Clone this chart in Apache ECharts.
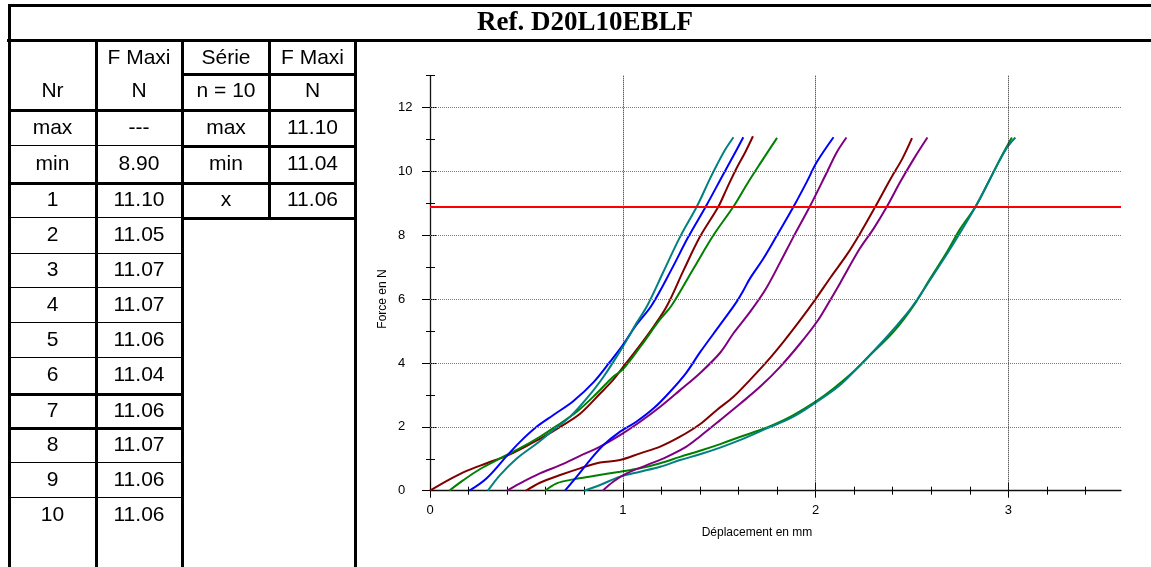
<!DOCTYPE html>
<html>
<head>
<meta charset="utf-8">
<title>Ref. D20L10EBLF</title>
<script src="https://cdn.jsdelivr.net/npm/echarts@6/dist/echarts.min.js"></script>
<style>
html, body { margin: 0; padding: 0; background: #fff; }
#chart { width: 1151px; height: 567px; }
</style>
</head>
<body>
<div id="chart"></div>
<script>
// tableau
const refTitre = 'Ref. D20L10EBLF';
const enTete = ['Nr', 'F Maxi', 'N', 'Série', 'n = 10', 'F Maxi', 'N'];
const limiteNoms = ['max', 'min'];
const limiteValeurs = ['---', '8.90'];
const echantillons = ['1', '2', '3', '4', '5', '6', '7', '8', '9', '10'];
const fMaxi = ['11.10', '11.05', '11.07', '11.07', '11.06', '11.04', '11.06', '11.07', '11.06', '11.06'];
const serieNoms = ['max', 'min', 'x'];
const serieValeurs = ['11.10', '11.04', '11.06'];

// axes
const xTicks = [0, 1, 2, 3];
const xMinorTicks = [0.2, 0.4, 0.6, 0.8, 1.2, 1.4, 1.6, 1.8, 2.2, 2.4, 2.6, 2.8, 3.2, 3.4];
const yTicks = [0, 2, 4, 6, 8, 10, 12];
const yMinorTicks = [1, 3, 5, 7, 9, 11, 13];
const xMax = 3.584;
const yMax = 13;

// courbes force / deplacement
const couleurs = ['#800000', '#008000', '#0000ff', '#008080', '#800080', '#800000', '#008000', '#0000ff', '#008080', '#800080'];
const courbe1 = [[0, 0], [0.104, 0.36], [0.19, 0.62], [0.294, 0.86], [0.40, 1.10], [0.50, 1.40], [0.59, 1.69], [0.675, 2.0], [0.78, 2.42], [0.88, 3.03], [0.95, 3.47], [1.0, 3.86], [1.07, 4.4], [1.16, 5.14], [1.23, 5.8], [1.315, 6.9], [1.40, 7.95], [1.496, 8.9], [1.54, 9.47], [1.59, 10.1], [1.635, 10.6], [1.675, 11.10]];
const courbe2 = [[0.1, 0], [0.173, 0.33], [0.26, 0.68], [0.363, 1.01], [0.467, 1.33], [0.57, 1.69], [0.657, 2.03], [0.761, 2.47], [0.865, 3.05], [0.95, 3.57], [1.0, 3.8], [1.09, 4.5], [1.19, 5.34], [1.254, 5.81], [1.367, 6.96], [1.47, 8.0], [1.574, 8.9], [1.644, 9.6], [1.713, 10.25], [1.80, 11.05]];
const courbe3 = [[0.204, 0], [0.294, 0.39], [0.40, 1.10], [0.467, 1.53], [0.553, 2.0], [0.64, 2.37], [0.744, 2.81], [0.85, 3.41], [0.934, 4.04], [1.0, 4.56], [1.07, 5.19], [1.15, 5.81], [1.25, 6.9], [1.34, 7.95], [1.435, 8.95], [1.522, 9.92], [1.573, 10.48], [1.625, 11.07]];
const courbe4 = [[0.30, 0], [0.363, 0.49], [0.45, 1.01], [0.554, 1.48], [0.64, 1.90], [0.727, 2.32], [0.813, 2.89], [0.90, 3.57], [1.0, 4.51], [1.07, 5.24], [1.128, 5.81], [1.21, 6.85], [1.297, 7.95], [1.384, 8.9], [1.453, 9.78], [1.488, 10.2], [1.53, 10.67], [1.574, 11.07]];
const courbe5 = [[0.40, 0], [0.467, 0.23], [0.57, 0.54], [0.675, 0.80], [0.778, 1.09], [0.882, 1.38], [0.986, 1.74], [1.09, 2.16], [1.194, 2.63], [1.297, 3.15], [1.40, 3.68], [1.505, 4.32], [1.574, 4.93], [1.66, 5.6], [1.74, 6.3], [1.816, 7.15], [1.885, 7.95], [1.97, 8.9], [2.06, 9.99], [2.11, 10.6], [2.16, 11.06]];
const courbe6 = [[0.498, 0], [0.57, 0.25], [0.675, 0.49], [0.778, 0.70], [0.882, 0.88], [0.986, 0.96], [1.09, 1.17], [1.194, 1.38], [1.297, 1.69], [1.40, 2.08], [1.488, 2.53], [1.574, 2.94], [1.66, 3.47], [1.747, 4.04], [1.834, 4.67], [1.92, 5.34], [2.0, 6.0], [2.08, 6.7], [2.163, 7.4], [2.23, 8.05], [2.31, 8.9], [2.39, 9.78], [2.45, 10.4], [2.50, 11.04]];
const courbe7 = [[0.597, 0], [0.657, 0.23], [0.744, 0.355], [0.848, 0.46], [0.986, 0.595], [1.09, 0.70], [1.194, 0.86], [1.297, 1.06], [1.40, 1.25], [1.505, 1.46], [1.61, 1.69], [1.713, 1.90], [1.78, 2.06], [1.885, 2.37], [2.0, 2.79], [2.093, 3.20], [2.197, 3.73], [2.30, 4.35], [2.405, 4.98], [2.51, 5.81], [2.595, 6.65], [2.682, 7.48], [2.75, 8.2], [2.83, 8.9], [2.906, 9.78], [2.958, 10.4], [3.018, 11.06]];
const courbe8 = [[0.70, 0], [0.761, 0.44], [0.83, 0.96], [0.90, 1.43], [0.986, 1.85], [1.07, 2.16], [1.16, 2.58], [1.245, 3.1], [1.33, 3.7], [1.40, 4.33], [1.505, 5.2], [1.583, 5.85], [1.626, 6.28], [1.66, 6.65], [1.73, 7.28], [1.80, 8.0], [1.886, 8.9], [1.955, 9.68], [2.007, 10.3], [2.093, 11.07]];
const courbe9 = [[0.80, 0], [0.882, 0.18], [0.986, 0.44], [1.09, 0.595], [1.194, 0.75], [1.297, 0.96], [1.40, 1.14], [1.505, 1.35], [1.61, 1.59], [1.747, 1.95], [1.885, 2.32], [2.0, 2.76], [2.127, 3.31], [2.248, 4.04], [2.37, 4.82], [2.474, 5.55], [2.517, 5.9], [2.61, 6.75], [2.70, 7.59], [2.83, 8.9], [2.924, 9.99], [2.99, 10.72], [3.036, 11.06]];
const courbe10 = [[0.896, 0], [0.95, 0.28], [1.02, 0.54], [1.124, 0.80], [1.228, 1.06], [1.33, 1.38], [1.40, 1.70], [1.505, 2.21], [1.61, 2.73], [1.713, 3.26], [1.816, 3.88], [1.92, 4.61], [2.007, 5.29], [2.06, 5.81], [2.127, 6.5], [2.23, 7.59], [2.30, 8.2], [2.37, 8.9], [2.44, 9.68], [2.51, 10.4], [2.58, 11.06]];
const courbes = [courbe1, courbe2, courbe3, courbe4, courbe5, courbe6, courbe7, courbe8, courbe9, courbe10];

const police = '"Liberation Sans", Arial, sans-serif';

// dessin du tableau (graphic)
const elements = [];
function trait(x, y, w, h) {
    elements.push({ type: 'rect', shape: { x: x, y: y, width: w, height: h }, style: { fill: '#000' }, silent: true });
}
function texte(t, x, y, taille, font) {
    elements.push({
        type: 'text', x: x, y: y, silent: true,
        style: { text: t, fill: '#000', align: 'center', verticalAlign: 'middle', font: font || (taille + 'px ' + police) }
    });
}
// cadre et colonnes
trait(8, 4, 1143, 3);
trait(7, 39, 1144, 3);
trait(8, 4, 3, 563);
trait(95, 42, 3, 525);
trait(181, 42, 3, 525);
trait(268, 42, 3, 177);
trait(354, 42, 3, 525);
// lignes
trait(181, 73, 176, 3);
trait(8, 109, 349, 3);
trait(11, 145, 170, 1);
trait(181, 145, 176, 3);
trait(8, 182, 349, 3);
trait(11, 217, 170, 1);
trait(181, 217, 176, 3);
[253, 287, 322, 357, 462, 497].forEach(y => trait(11, y, 170, 1));
trait(8, 393, 176, 3);
trait(8, 427, 176, 3);

const colX = [52.5, 139, 226, 312.5];
const rowY = [128, 164, 200, 235, 270, 305, 340, 375.5, 411, 445.5, 480, 515];
texte(refTitre, 585, 23, 27, 'bold 27px "Liberation Serif", "Times New Roman", serif');
texte(enTete[0], colX[0], 91, 21);
texte(enTete[1], colX[1], 58, 21);
texte(enTete[2], colX[1], 91, 21);
texte(enTete[3], colX[2], 58, 21);
texte(enTete[4], colX[2], 91, 21);
texte(enTete[5], colX[3], 58, 21);
texte(enTete[6], colX[3], 91, 21);
limiteNoms.forEach((n, i) => { texte(n, colX[0], rowY[i], 21); texte(limiteValeurs[i], colX[1], rowY[i], 21); });
echantillons.forEach((n, i) => { texte(n, colX[0], rowY[i + 2], 21); texte(fMaxi[i], colX[1], rowY[i + 2], 21); });
serieNoms.forEach((n, i) => { texte(n, colX[2], rowY[i], 21); texte(serieValeurs[i], colX[3], rowY[i], 21); });
// noms des axes
elements.push({ type: 'text', x: 383, y: 299, rotation: Math.PI / 2, silent: true,
    style: { text: 'Force en N', fill: '#000', align: 'center', verticalAlign: 'middle', font: '12px ' + police } });
texte('Déplacement en mm', 757, 533, 12);

function axeX(opts) {
    return Object.assign({
        type: 'value', min: 0, max: xMax, position: 'bottom',
        splitLine: { show: false }, axisLine: { show: false },
        axisLabel: { show: false }, axisTick: { show: false }
    }, opts);
}
function axeY(opts) {
    return Object.assign({
        type: 'value', min: 0, max: yMax, position: 'left',
        splitLine: { show: false }, axisLine: { show: false },
        axisLabel: { show: false }, axisTick: { show: false }
    }, opts);
}
const noir = { color: '#000', width: 1 };

const option = {
    animation: false,
    backgroundColor: '#fff',
    graphic: elements,
    grid: { left: 430, top: 75.6, right: 30, bottom: 76.3 },
    xAxis: [
        axeX({
            axisLine: { show: true, onZero: false, lineStyle: { color: '#111', width: 1.3 } },
            axisTick: { show: true, length: 7, customValues: xTicks, lineStyle: noir },
            axisLabel: { show: true, customValues: xTicks, margin: 13, fontSize: 13, color: '#000', fontFamily: police }
        }),
        axeX({ axisTick: { show: true, inside: true, length: 8, customValues: xTicks, lineStyle: noir } }),
        axeX({ axisTick: { show: true, length: 4, customValues: xMinorTicks, lineStyle: noir } }),
        axeX({ axisTick: { show: true, inside: true, length: 4, customValues: xMinorTicks, lineStyle: noir } })
    ],
    yAxis: [
        axeY({
            axisLine: { show: true, onZero: false, lineStyle: { color: '#111', width: 1.3 } },
            axisTick: { show: true, length: 8, customValues: yTicks, lineStyle: noir },
            axisLabel: { show: true, customValues: yTicks, align: 'left', margin: 32, fontSize: 13, color: '#000', fontFamily: police }
        }),
        axeY({ axisTick: { show: true, inside: true, length: 7, customValues: yTicks, lineStyle: noir } }),
        axeY({ axisTick: { show: true, length: 4, customValues: yMinorTicks, lineStyle: noir } }),
        axeY({ axisTick: { show: true, inside: true, length: 5, customValues: yMinorTicks, lineStyle: noir } })
    ],
    series: [
        {
            name: 'grille', type: 'line', data: [], z: 1, silent: true,
            markLine: {
                symbol: 'none', silent: true, label: { show: false }, animation: false,
                data: yTicks.filter(v => v > 0).map(v => ({ yAxis: v, lineStyle: { color: '#777', width: 1, type: [1, 1] } }))
                    .concat(xTicks.filter(v => v > 0).map(v => ({ xAxis: v, lineStyle: { color: '#222', width: 1, type: [1, 1] } })))
            }
        }
    ].concat(courbes.map((c, i) => ({
        name: 'Essai ' + echantillons[i], type: 'line', data: c, z: 3,
        showSymbol: false, smooth: 0.35, silent: true,
        lineStyle: { color: couleurs[i], width: 2 }
    }))).concat([
        {
            name: 'seuil', type: 'line', data: [], z: 5, silent: true,
            markLine: {
                symbol: 'none', silent: true, label: { show: false }, animation: false,
                data: [{ yAxis: parseFloat(limiteValeurs[1]), lineStyle: { color: '#ff0000', width: 2, type: 'solid' } }]
            }
        }
    ])
};

const chart = echarts.init(document.getElementById('chart'));
chart.setOption(option);
</script>
</body>
</html>
